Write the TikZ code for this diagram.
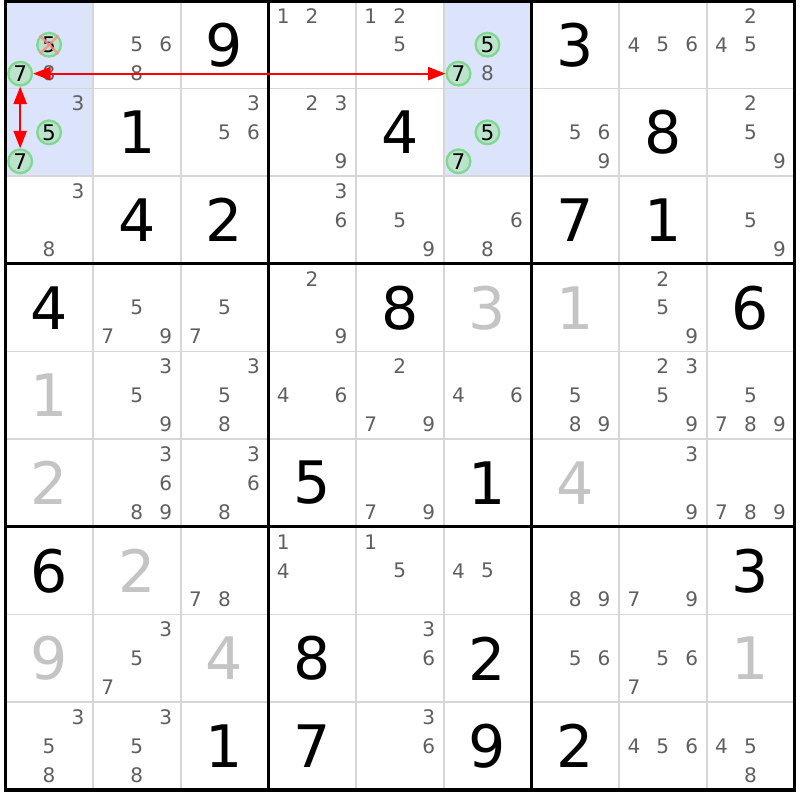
\documentclass[tikz,border=0pt]{standalone}
\usepackage{fontspec}
\setmainfont{DejaVu Sans}
\usetikzlibrary{arrows.meta}

\definecolor{candgray}{HTML}{5F5F5F}
\definecolor{fadedgray}{HTML}{C4C4C4}
\definecolor{cellblue}{HTML}{DCE4FC}
\definecolor{ringgreen}{HTML}{80D890}
\definecolor{ringfill}{HTML}{BCE4CC}
\definecolor{gridgray}{HTML}{D6D6D6}

\tikzset{
    given/.style={font=\fontsize{19}{19}\selectfont, text=black, inner sep=0pt},
    faded/.style={given, text=fadedgray},
    cand/.style={font=\fontsize{6.5}{6.5}\selectfont, text=candgray, inner sep=0pt},
    ring/.style={circle, draw=ringgreen, fill=ringfill, line width=0.75pt,
        minimum size=0.27cm, inner sep=0pt, font=\fontsize{7}{7}\selectfont, text=black},
    chain/.style={red, line width=0.65pt,
        {Triangle[length=2mm,width=1.5mm]}-{Triangle[length=2mm,width=1.5mm]}}
}

\begin{document}
\begin{tikzpicture}
                \useasboundingbox (-0.06,-0.115) rectangle (9.06,9.01);

                %Draw the highlighted cells
                \foreach \r/\c in {1/1, 2/1, 1/6, 2/6}
                    \fill[cellblue] (\c-1,9-\r) rectangle (\c,10-\r);

                %Draw the thin grid lines
                \foreach \i in {1,2,4,5,7,8} {
                    \draw[gridgray, line width=0.6pt] (\i,0) -- (\i,9);
                    \draw[gridgray, line width=0.6pt] (0,\i) -- (9,\i);
                }

                %Draw the box lines
                \foreach \i in {3,6} {
                    \draw[line width=1pt] (\i,0) -- (\i,9);
                    \draw[line width=1pt] (0,\i) -- (9,\i);
                }
                \draw[line width=1.1pt] (0,0) rectangle (9,9);

                %Draw the given digits
                \foreach \r/\c/\d in {1/3/9, 1/7/3, 2/2/1, 2/5/4, 2/8/8, 3/2/4, 3/3/2, 3/7/7, 3/8/1,
                    4/1/4, 4/5/8, 4/9/6, 6/4/5, 6/6/1, 7/1/6, 7/9/3, 8/4/8, 8/6/2,
                    9/3/1, 9/4/7, 9/6/9, 9/7/2}
                    \node[given] (g\r\c) at (\c-0.5,9.5-\r) {\d};

                %Draw the solved digits in gray
                \foreach \r/\c/\d in {4/6/3, 4/7/1, 5/1/1, 6/1/2, 6/7/4, 7/2/2, 8/1/9, 8/3/4, 8/9/1}
                    \node[faded] (g\r\c) at (\c-0.5,9.5-\r) {\d};

                %Draw the pencil marks
                \foreach \r/\c/\ds in {1/1/{8}, 1/2/{5,6,8}, 1/4/{1,2}, 1/5/{1,2,5}, 1/6/{8}, 1/8/{4,5,6}, 1/9/{2,4,5},
                    2/1/{3}, 2/3/{3,5,6}, 2/4/{2,3,9}, 2/7/{5,6,9}, 2/9/{2,5,9},
                    3/1/{3,8}, 3/4/{3,6}, 3/5/{5,9}, 3/6/{6,8}, 3/9/{5,9},
                    4/2/{5,7,9}, 4/3/{5,7}, 4/4/{2,9}, 4/8/{2,5,9},
                    5/2/{3,5,9}, 5/3/{3,5,8}, 5/4/{4,6}, 5/5/{2,7,9}, 5/6/{4,6}, 5/7/{5,8,9}, 5/8/{2,3,5,9}, 5/9/{5,7,8,9},
                    6/2/{3,6,8,9}, 6/3/{3,6,8}, 6/5/{7,9}, 6/8/{3,9}, 6/9/{7,8,9},
                    7/3/{7,8}, 7/4/{1,4}, 7/5/{1,5}, 7/6/{4,5}, 7/7/{8,9}, 7/8/{7,9},
                    8/2/{3,5,7}, 8/5/{3,6}, 8/7/{5,6}, 8/8/{5,6,7},
                    9/1/{3,5,8}, 9/2/{3,5,8}, 9/5/{3,6}, 9/8/{4,5,6}, 9/9/{4,5,8}} {
                    \foreach \d in \ds {
                        \pgfmathtruncatemacro\col{mod(\d-1,3)}
                        \pgfmathtruncatemacro\row{div(\d-1,3)}
                        \node[cand] (p\r\c\d) at (\c-0.5+0.33*\col-0.33,9.5-\r-0.33*\row+0.33) {\d};
                    }
                }

                %Draw the ringed candidates of the chain
                \node[ring] (p115) at (0.5,8.5) {5};
                \node[ring] (p117) at (0.17,8.17) {7};
                \node[ring] (p215) at (0.5,7.5) {5};
                \node[ring] (p217) at (0.17,7.17) {7};
                \node[ring] (p165) at (5.5,8.5) {5};
                \node[ring] (p167) at (5.17,8.17) {7};
                \node[ring] (p265) at (5.5,7.5) {5};
                \node[ring] (p267) at (5.17,7.17) {7};

                %Cross out the eliminated candidate
                \draw[red!45, line width=0.8pt, opacity=0.85] (p115.135) -- (p115.-45);
                \draw[red!45, line width=0.8pt, opacity=0.85] (p115.45) -- (p115.-135);

                %Draw the links
                \draw[chain] (p117) -- (p167);
                \draw[chain] (p117) -- (p217);

            \end{tikzpicture}
\end{document}
